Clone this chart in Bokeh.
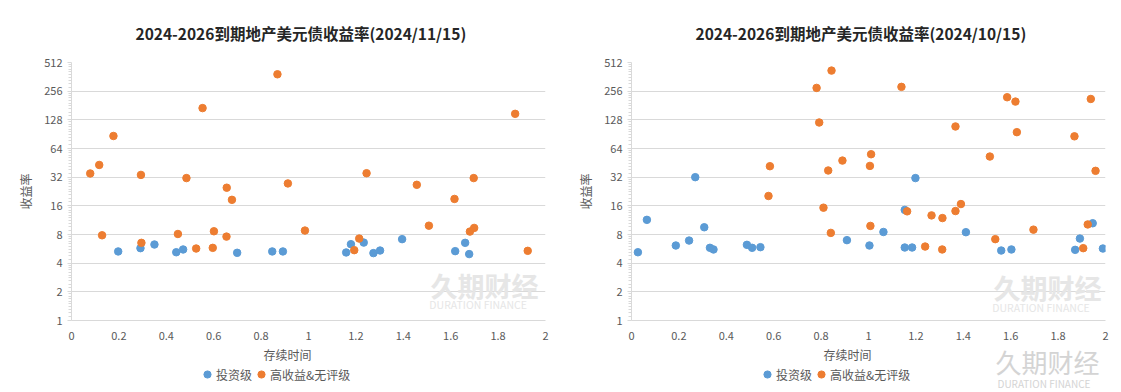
from bokeh.plotting import figure
from bokeh.layouts import row, column
from bokeh.models import FixedTicker, Legend, LegendItem, Label, Range1d
from bokeh.embed import file_html
from bokeh.resources import INLINE

# ---------------- data ----------------
titles = ["2024-2026到期地产美元债收益率(2024/11/15)",
          "2024-2026到期地产美元债收益率(2024/10/15)"]
series_names = ["投资级", "高收益&无评级"]
x_label = "存续时间"
y_label = "收益率"
y_ticks = [1, 2, 4, 8, 16, 32, 64, 128, 256, 512]
x_ticks = [0, 0.2, 0.4, 0.6, 0.8, 1.0, 1.2, 1.4, 1.6, 1.8, 2.0]
watermark_cn = "久期财经"
watermark_en = "DURATION FINANCE"

# 2024/11/15
ig_x_1115 = [0.197, 0.291, 0.350, 0.442, 0.471, 0.699, 0.847, 0.892, 1.159, 1.179,
             1.233, 1.274, 1.302, 1.395, 1.619, 1.661, 1.678]
ig_y_1115 = [5.31, 5.75, 6.28, 5.21, 5.57, 5.14, 5.31, 5.31, 5.18, 6.33,
             6.58, 5.10, 5.43, 7.15, 5.35, 6.54, 4.98]
hy_x_1115 = [0.079, 0.117, 0.129, 0.177, 0.293, 0.295, 0.449, 0.485, 0.526, 0.553,
             0.596, 0.601, 0.654, 0.655, 0.677, 0.869, 0.913, 0.985, 1.193, 1.214,
             1.245, 1.457, 1.508, 1.616, 1.681, 1.697, 1.699, 1.872, 1.925]
hy_y_1115 = [35.0, 43.0, 7.85, 86.6, 33.8, 6.54, 8.1, 31.3, 5.7, 170.0,
             5.79, 8.65, 7.6, 24.8, 18.5, 385.0, 27.5, 8.8, 5.48, 7.25,
             35.2, 26.6, 9.9, 18.9, 8.58, 31.3, 9.38, 148.0, 5.39]

# 2024/10/15
ig_x_1015 = [0.027, 0.065, 0.187, 0.243, 0.269, 0.307, 0.331, 0.346, 0.487, 0.509,
             0.544, 0.909, 1.004, 1.063, 1.153, 1.153, 1.184, 1.198, 1.411, 1.560,
             1.603, 1.872, 1.892, 1.946, 1.989]
ig_y_1015 = [5.21, 11.4, 6.13, 6.91, 32.0, 9.53, 5.8, 5.57, 6.23, 5.8,
             5.89, 6.98, 6.13, 8.5, 14.5, 5.84, 5.84, 31.3, 8.46, 5.43,
             5.57, 5.52, 7.25, 10.5, 5.7]
hy_x_1015 = [0.578, 0.584, 0.781, 0.792, 0.810, 0.830, 0.841, 0.844, 0.890, 1.006,
             1.008, 1.011, 1.139, 1.163, 1.239, 1.266, 1.311, 1.312, 1.367, 1.367,
             1.390, 1.512, 1.535, 1.585, 1.620, 1.626, 1.696, 1.869, 1.906, 1.925,
             1.938, 1.958]
hy_y_1015 = [20.3, 41.7, 277.0, 120.0, 15.3, 37.6, 8.32, 421.0, 47.8, 42.0,
             9.85, 55.7, 284.0, 14.0, 5.98, 12.7, 5.57, 11.9, 109.0, 14.1,
             16.7, 52.7, 7.15, 221.0, 199.0, 95.0, 9.0, 85.9, 5.75, 10.2,
             212.0, 37.3]

BLUE = "#5b9bd5"
ORANGE = "#ed7d31"
FONT = "Noto Sans CJK SC"
TXT = "#595959"
GRID = "#d9d9d9"
WM = "#e6e6e6"
WM2 = "#d4d4d4"
MSIZE = 7.5
FRAME_W = 474          # plot-area width in px (frames of a column are aligned)


def make_panel(title_text, igx, igy, hyx, hyy, wm_x, wm_y, wm_en_y):
    p = figure(width=560, height=344, x_range=Range1d(0, 2), y_range=Range1d(1, 512),
               y_axis_type="log", output_backend="svg", toolbar_location=None,
               min_border_left=71, min_border_right=15,
               min_border_top=61, min_border_bottom=24)
    p.outline_line_color = None
    p.title.text = title_text
    p.title.align = "left"
    p.title.offset = 64
    p.title.standoff = 38
    p.title.text_font = FONT
    p.title.text_font_size = "15.5px"
    p.title.text_font_style = "bold"
    p.title.text_color = "#262626"

    minors = []
    for t in y_ticks[:-1]:
        minors += [t * (1 + k / 10) for k in range(1, 10)]
    p.yaxis.ticker = FixedTicker(ticks=y_ticks, minor_ticks=minors)
    p.yaxis.axis_line_color = GRID
    p.yaxis.major_tick_line_color = GRID
    p.yaxis.minor_tick_line_color = GRID
    p.yaxis.major_tick_out = 4
    p.yaxis.major_tick_in = 0
    p.yaxis.minor_tick_out = 3
    p.yaxis.minor_tick_in = 0
    p.yaxis.major_label_standoff = 5
    p.yaxis.axis_label = y_label
    p.yaxis.axis_label_standoff = 7

    p.xaxis.ticker = FixedTicker(ticks=x_ticks, minor_ticks=[])
    p.xaxis.axis_line_color = GRID
    p.xaxis.major_tick_line_color = None
    p.xaxis.minor_tick_line_color = None

    for ax in (p.xaxis, p.yaxis):
        ax.major_label_text_font = FONT
        ax.major_label_text_font_size = "11px"
        ax.major_label_text_color = TXT
        ax.axis_label_text_font = FONT
        ax.axis_label_text_font_size = "12px"
        ax.axis_label_text_font_style = "normal"
        ax.axis_label_text_color = TXT

    p.xgrid.grid_line_color = None
    p.ygrid.grid_line_color = GRID
    p.ygrid.ticker = FixedTicker(ticks=y_ticks)

    p.add_layout(Label(x=wm_x, y=wm_y, text=watermark_cn, text_font=FONT,
                       text_font_size="27px", text_color=WM, text_font_style="bold",
                       text_baseline="middle", level="underlay"))
    p.add_layout(Label(x=wm_x - 0.005, y=wm_en_y, text=watermark_en, text_font=FONT,
                       text_font_size="10.5px", text_color=WM,
                       text_baseline="middle", level="underlay"))

    p.scatter(igx, igy, size=MSIZE, color=BLUE, line_color=BLUE)
    p.scatter(hyx, hyy, size=MSIZE, color=ORANGE, line_color=ORANGE)
    return p


def make_strip(corner_mark):
    # strip below each chart: axis title, legend (and corner watermark);
    # its frame is aligned with the chart's plot area, so x is in px from x=0
    s = figure(width=560, height=48, x_range=Range1d(0, FRAME_W), y_range=Range1d(48, 0),
               output_backend="svg", toolbar_location=None,
               min_border_left=71, min_border_right=15,
               min_border_top=0, min_border_bottom=0,
               x_axis_location=None, y_axis_location=None)
    s.outline_line_color = None
    s.xgrid.visible = False
    s.ygrid.visible = False
    # legend-only renderers (their single point sits outside the visible range)
    r1 = s.scatter(x=[-1000], y=[-1000], size=MSIZE, color=BLUE, line_color=BLUE)
    r2 = s.scatter(x=[-1000], y=[-1000], size=MSIZE, color=ORANGE, line_color=ORANGE)
    s.add_layout(Label(x=216, y=10, text=x_label, text_font=FONT,
                       text_font_size="12px", text_color=TXT,
                       text_align="center", text_baseline="middle"))
    if corner_mark:
        s.add_layout(Label(x=364, y=17, text=watermark_cn, text_font=FONT,
                           text_font_size="26px", text_color=WM2,
                           text_baseline="middle"))
        s.add_layout(Label(x=366, y=39, text=watermark_en, text_font=FONT,
                           text_font_size="10px", text_color=WM2,
                           text_baseline="middle"))
    legend = Legend(items=[LegendItem(label=series_names[0], renderers=[r1]),
                           LegendItem(label=series_names[1], renderers=[r2])],
                    orientation="horizontal", location=(127, 9),
                    border_line_color=None, background_fill_alpha=0,
                    padding=0, margin=0, spacing=0, label_standoff=0,
                    glyph_width=18, glyph_height=18, label_height=16,
                    label_text_font=FONT, label_text_font_size="12px",
                    label_text_color=TXT)
    s.add_layout(legend)
    return s


p1 = make_panel(titles[0], ig_x_1115, ig_y_1115, hy_x_1115, hy_y_1115, 1.515, 2.32, 1.47)
p2 = make_panel(titles[1], ig_x_1015, ig_y_1015, hy_x_1015, hy_y_1015, 1.527, 2.21, 1.37)
s1 = make_strip(False)
s2 = make_strip(True)

layout = row(column(p1, s1), column(p2, s2))
open("out.html", "w").write(file_html(layout, INLINE))
